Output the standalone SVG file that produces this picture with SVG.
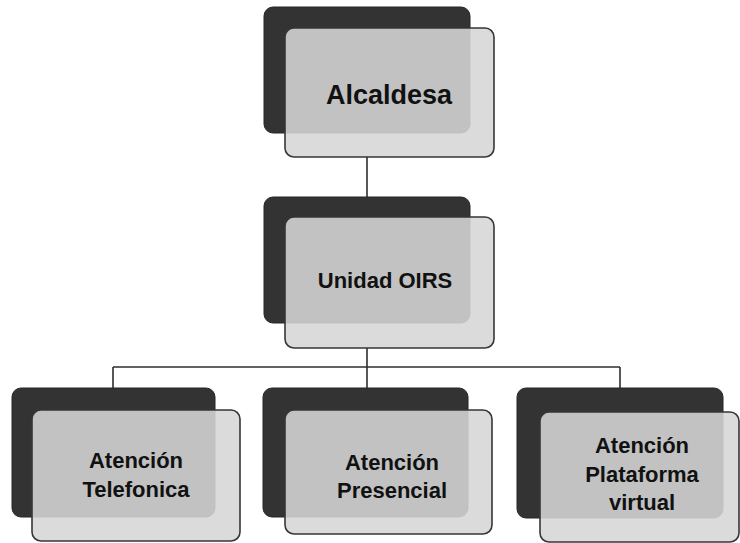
<svg xmlns="http://www.w3.org/2000/svg" width="740" height="543" viewBox="0 0 740 543">
<style>
.back{fill:#333333;stroke:#262626;stroke-width:1}
.front{fill:#d6d6d6;fill-opacity:0.88;stroke:#363636;stroke-width:1.6}
.lbl{font-family:"Liberation Sans",Arial,sans-serif;font-weight:bold;fill:#111111;text-anchor:middle}
.conn{stroke:#2e2e2e;stroke-width:1.6;fill:none}
</style>
<rect width="740" height="543" fill="#ffffff"/>
<g id="connectors">
<line class="conn" x1="367" y1="157" x2="367" y2="217"/>
<line class="conn" x1="367" y1="348" x2="367" y2="388"/>
<line class="conn" x1="113" y1="367" x2="620" y2="367"/>
<line class="conn" x1="113" y1="367" x2="113" y2="388"/>
<line class="conn" x1="620" y1="367" x2="620" y2="388"/>
</g>
<g id="alcaldesa">
<rect class="back" x="264" y="7" width="206" height="126" rx="9"/>
<rect class="front" x="285" y="28" width="209" height="129" rx="9"/>
<text class="lbl" x="389" y="104" font-size="27">Alcaldesa</text>
</g>
<g id="unidad-oirs">
<rect class="back" x="264" y="197" width="206" height="126" rx="9"/>
<rect class="front" x="285" y="217" width="209" height="131" rx="9"/>
<text class="lbl" x="385" y="288" font-size="22">Unidad OIRS</text>
</g>
<g id="atencion-telefonica">
<rect class="back" x="12" y="388" width="203" height="129" rx="9"/>
<rect class="front" x="32" y="410" width="208" height="131" rx="9"/>
<text class="lbl" x="136" y="468" font-size="22">Atención</text>
<text class="lbl" x="136" y="497" font-size="22">Telefonica</text>
</g>
<g id="atencion-presencial">
<rect class="back" x="263" y="388" width="205" height="129" rx="9"/>
<rect class="front" x="285" y="410" width="207" height="124" rx="9"/>
<text class="lbl" x="392" y="470" font-size="22">Atención</text>
<text class="lbl" x="392" y="498" font-size="22">Presencial</text>
</g>
<g id="atencion-plataforma">
<rect class="back" x="517" y="388" width="206" height="130" rx="9"/>
<rect class="front" x="540" y="412" width="199" height="130" rx="9"/>
<text class="lbl" x="642" y="453" font-size="22">Atención</text>
<text class="lbl" x="642" y="482" font-size="22">Plataforma</text>
<text class="lbl" x="642" y="510" font-size="22">virtual</text>
</g>
</svg>
